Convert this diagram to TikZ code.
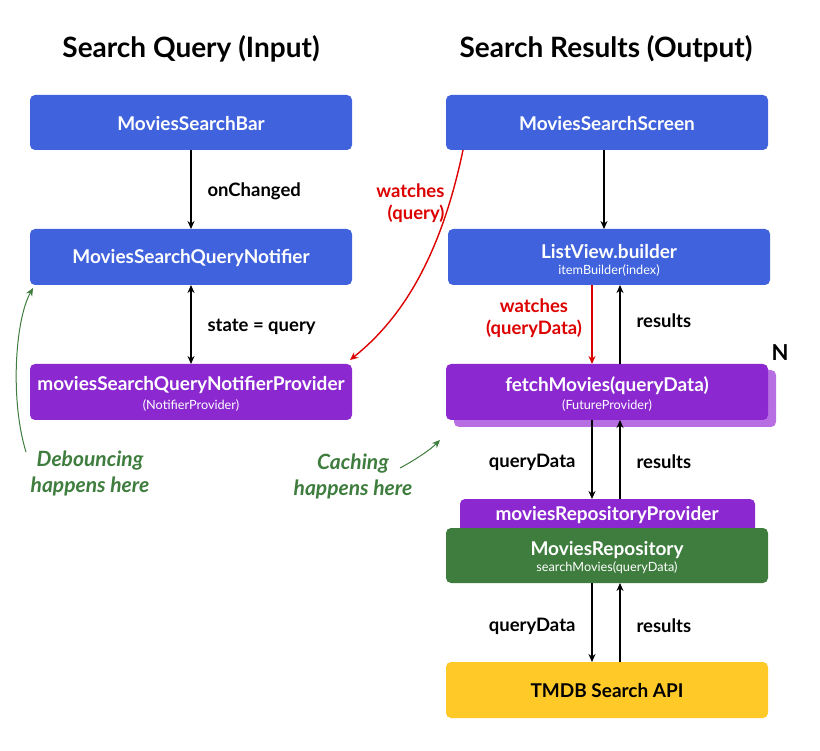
\documentclass[tikz,border=0pt]{standalone}
\usepackage{fontspec}
\setmainfont{Lato}
\usetikzlibrary{arrows.meta}
\definecolor{cblue}{RGB}{64,99,221}
\definecolor{cpurp}{RGB}{139,40,208}
\definecolor{cpurpl}{RGB}{183,110,226}
\definecolor{cgreen}{RGB}{62,125,62}
\definecolor{cyel}{RGB}{255,202,40}
\definecolor{cred}{RGB}{220,0,0}
\definecolor{cgtxt}{RGB}{62,125,62}
\begin{document}
\begin{tikzpicture}[x=1pt,y=-1pt,
 box/.style={rounded corners=5pt,draw=none},
 t/.style={font=\bfseries\fontsize{19}{22}\selectfont,text=white,align=center},
 sub/.style={font=\fontsize{12.7}{15}\selectfont,text=white},
 lab/.style={font=\bfseries\fontsize{18.5}{22}\selectfont},
 it/.style={text=cgtxt,font=\bfseries\itshape\fontsize{21}{26}\selectfont,align=center},
 arr/.style={-{Stealth[length=8pt,width=7pt]},line width=1.4pt}]
\useasboundingbox (0,0) rectangle (820,751);
\node[font=\bfseries\fontsize{28}{32}\selectfont] (t1) at (191,49) {Search Query (Input)};
\node[font=\bfseries\fontsize{28}{32}\selectfont] (t2) at (606,49) {Search Results (Output)};
% left
\fill[box,cblue] (30,95) rectangle (352,150);
\node[t] (bar) at (191,124) {MoviesSearchBar};
\fill[box,cblue] (30,229) rectangle (352,285);
\node[t] (notif) at (191,258) {MoviesSearchQueryNotifier};
\fill[box,cpurp] (30,364) rectangle (352,420);
\node[t] (prov) at (191,385) {moviesSearchQueryNotifierProvider};
\node[sub] (provs) at (191,406) {(NotifierProvider)};
% right
\fill[box,cblue] (446,95) rectangle (768,150);
\node[t] (scr) at (607,124) {MoviesSearchScreen};
\fill[box,cblue] (448,229) rectangle (770,285);
\node[t] (lv) at (609,252) {ListView.builder};
\node[sub] (lvs) at (609,271) {itemBuilder(index)};
\fill[box,cpurpl] (454,370) rectangle (776,427);
\fill[box,cpurp] (446,364) rectangle (768,420);
\node[t] (fm) at (607,386) {fetchMovies(queryData)};
\node[sub] (fms) at (607,406) {(FutureProvider)};
\node[font=\bfseries\fontsize{22}{26}\selectfont] (N) at (780,353) {N};
\fill[box,cpurp] (460,499) rectangle (755,540);
\node[t] (rp) at (607,515) {moviesRepositoryProvider};
\fill[box,cgreen] (446,528) rectangle (768,583);
\node[t] (repo) at (607,550) {MoviesRepository};
\node[sub] (repos) at (607,568) {searchMovies(queryData)};
\fill[box,cyel] (446,662) rectangle (768,718);
\node[font=\bfseries\fontsize{19}{22}\selectfont] (api) at (607,691) {TMDB Search API};
% arrows left
\draw[arr] (191,150) -- (191,229);
\node[lab,anchor=west] (l1) at (204,191) {onChanged};
\draw[arr,{Stealth[length=8pt,width=7pt]}-{Stealth[length=8pt,width=7pt]}] (191,285) -- (191,364);
\node[lab,anchor=west] (l2) at (204,327) {state = query};
% arrows right
\draw[arr] (604,150) -- (604,229);
\draw[arr,cred] (592,285) -- (592,364);
\draw[arr] (620,364) -- (620,285);
\node[lab,text=cred,align=center] (w2) at (534,318) {watches\\(queryData)};
\node[lab,anchor=west] (r1) at (633,321) {results};
\draw[arr] (592,420) -- (592,499);
\draw[arr] (620,499) -- (620,420);
\node[lab,anchor=east] (q2) at (579,462) {queryData};
\node[lab,anchor=west] (r2) at (633,462) {results};
\draw[arr] (592,583) -- (592,662);
\draw[arr] (620,662) -- (620,583);
\node[lab,anchor=east] (q3) at (579,626) {queryData};
\node[lab,anchor=west] (r3) at (633,626) {results};
% red curve
\draw[arr,cred] (463,150) .. controls (440,260) and (400,320) .. (350,360);
\node[lab,text=cred,align=right,anchor=east] (w1) at (448,203) {watches\\(query)};
% green
\node[it] (d) at (90,473) {Debouncing\\happens here};
\node[it] (c) at (353,476) {Caching\\happens here};
\draw[arr,cgtxt,line width=1pt] (26,452) .. controls (10,400) and (15,320) .. (33,288);
\draw[arr,cgtxt,line width=1pt] (400,468) .. controls (415,460) and (430,450) .. (440,440);
\end{tikzpicture}
\end{document}
